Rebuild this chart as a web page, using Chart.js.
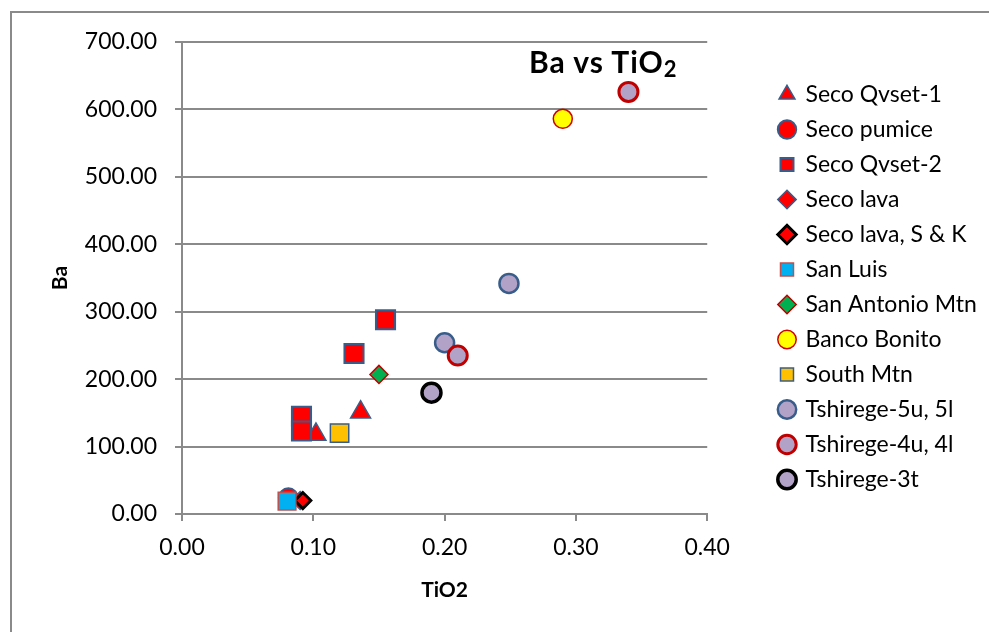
<!doctype html>
<html lang="en">
  <head>
    <meta charset="utf-8">
    <title>Ba vs TiO2</title>
    <script src="https://cdn.jsdelivr.net/npm/chart.js"></script>
    <style>
      html, body { margin: 0; padding: 0; background: #fff; overflow: hidden; }
      .frame { position: absolute; left: 10px; top: 11px; width: 1200px; height: 800px; border: 2px solid #8a8a8a; }
      .chart-box { position: absolute; left: 0; top: 0; width: 989px; height: 632px; }
      .chart-title { position: absolute; left: 529px; top: 43px; font: bold 30px Lato, sans-serif; letter-spacing: 1px; color: #000; white-space: nowrap; }
      .chart-title sub { font-size: 22px; vertical-align: -4px; }
    </style>
  </head>
  <body>
    <div class="frame"></div>
    <div class="chart-box"><canvas id="baChart" width="989" height="632"></canvas></div>
    <div class="chart-title">Ba vs TiO<sub>2</sub></div>
    <script>
      // series values: [TiO2, Ba]
      const secoQvset1 = [[0.102, 118], [0.136, 151]];
      const secoPumice = [[0.081, 24]];
      const secoQvset2 = [[0.091, 145], [0.091, 123], [0.131, 238], [0.155, 288]];
      const secoLava = [[0.090, 20]];
      const secoLavaSK = [[0.092, 20]];
      const sanLuis = [[0.080, 19]];
      const sanAntonio = [[0.150, 207]];
      const bancoBonito = [[0.290, 586]];
      const southMtn = [[0.120, 120]];
      const tshirege5 = [[0.200, 254], [0.249, 342]];
      const tshirege4 = [[0.210, 235], [0.340, 626]];
      const tshirege3t = [[0.190, 180]];

      const xTicks = [0, 0.1, 0.2, 0.3, 0.4];
      const yTicks = [0, 100, 200, 300, 400, 500, 600, 700];

      const FONT = 'Lato';
      const BLUE = '#385D8A';

      const series = [
        { label: 'Seco Qvset-1', data: secoQvset1, pointStyle: 'triangle', pointRadius: 11.5, backgroundColor: '#FF0000', borderColor: BLUE, borderWidth: 1.5 },
        { label: 'Seco pumice', data: secoPumice, pointStyle: 'circle', pointRadius: 9.5, backgroundColor: '#FF0000', borderColor: BLUE, borderWidth: 2 },
        { label: 'Seco Qvset-2', data: secoQvset2, pointStyle: 'rect', pointRadius: 13.5, backgroundColor: '#FF0000', borderColor: BLUE, borderWidth: 2 },
        { label: 'Seco lava', data: secoLava, pointStyle: 'rectRot', pointRadius: 9, backgroundColor: '#FF0000', borderColor: BLUE, borderWidth: 1.5 },
        { label: 'Seco lava, S & K', data: secoLavaSK, pointStyle: 'rectRot', pointRadius: 8, backgroundColor: '#FF0000', borderColor: '#000000', borderWidth: 3 },
        { label: 'San Luis', data: sanLuis, pointStyle: 'rect', pointRadius: 12.5, backgroundColor: '#00B0F0', borderColor: '#C0504D', borderWidth: 1.5 },
        { label: 'San Antonio Mtn', data: sanAntonio, pointStyle: 'rectRot', pointRadius: 9, backgroundColor: '#00B050', borderColor: '#C00000', borderWidth: 1.5 },
        { label: 'Banco Bonito', data: bancoBonito, pointStyle: 'circle', pointRadius: 9.5, backgroundColor: '#FFFF00', borderColor: '#D00000', borderWidth: 1.5 },
        { label: 'South Mtn', data: southMtn, pointStyle: 'rect', pointRadius: 13, backgroundColor: '#FFC000', borderColor: BLUE, borderWidth: 1.5 },
        { label: 'Tshirege-5u, 5l', data: tshirege5, pointStyle: 'circle', pointRadius: 9.5, backgroundColor: '#B3A2C7', borderColor: BLUE, borderWidth: 2.5 },
        { label: 'Tshirege-4u, 4l', data: tshirege4, pointStyle: 'circle', pointRadius: 9.5, backgroundColor: '#B3A2C7', borderColor: '#C00000', borderWidth: 3 },
        { label: 'Tshirege-3t', data: tshirege3t, pointStyle: 'circle', pointRadius: 9.5, backgroundColor: '#B3A2C7', borderColor: '#000000', borderWidth: 3.5 }
      ];

      const datasets = series.map((s, i) => ({
        ...s,
        data: s.data.map(p => ({ x: p[0], y: p[1] })),
        pointHoverRadius: s.pointRadius,
        order: series.length - i,   // later series sit on top, as in Excel
        clip: false
      }));

      // put the legend where Excel put it
      const legendNudge = {
        id: 'legendNudge',
        afterLayout(chart) {
          const lg = chart.legend;
          lg.left = 768; lg.right = lg.left + lg.width;
          lg.top = 71; lg.bottom = lg.top + lg.height;
        }
      };

      new Chart(document.getElementById('baChart'), {
        type: 'scatter',
        data: { datasets },
        plugins: [legendNudge],
        options: {
          responsive: false,
          animation: false,
          layout: { padding: { top: 42, right: 63, bottom: 0, left: 0 } },
          plugins: {
            tooltip: { enabled: false },
            legend: {
              position: 'right',
              align: 'start',
              maxWidth: 400,
              labels: {
                usePointStyle: true,
                boxWidth: 14,
                boxHeight: 13,
                padding: 12,
                color: '#000',
                font: { family: FONT, size: 23 },
                sort: (a, b) => a.datasetIndex - b.datasetIndex
              }
            }
          },
          scales: {
            x: {
              type: 'linear',
              min: 0, max: 0.4,
              afterBuildTicks: s => { s.ticks = xTicks.map(v => ({ value: v })); },
              afterFit: s => { s.height = 118; },
              grid: { drawOnChartArea: false, drawTicks: true, tickLength: 7, color: '#8a8a8a', lineWidth: 2 },
              border: { display: true, color: '#8a8a8a', width: 2 },
              ticks: { color: '#000', padding: 13, font: { family: FONT, size: 23 }, callback: v => v.toFixed(2) },
              title: { display: true, text: 'TiO2', color: '#000', font: { family: FONT, size: 21, weight: 'bold' }, padding: { top: 4, bottom: 29 } }
            },
            y: {
              type: 'linear',
              min: 0, max: 700,
              afterBuildTicks: s => { s.ticks = yTicks.map(v => ({ value: v })); },
              afterFit: s => { s.width = 182; },
              grid: { drawTicks: true, tickLength: 7, color: '#8a8a8a', lineWidth: 2 },
              border: { display: true, color: '#8a8a8a', width: 2 },
              ticks: { color: '#000', padding: 18, font: { family: FONT, size: 23 }, callback: v => v.toFixed(2) },
              title: { display: true, text: 'Ba', color: '#000', font: { family: FONT, size: 21, weight: 'bold' }, padding: { top: 48, bottom: 4 } }
            }
          }
        }
      });
    </script>
  </body>
</html>
